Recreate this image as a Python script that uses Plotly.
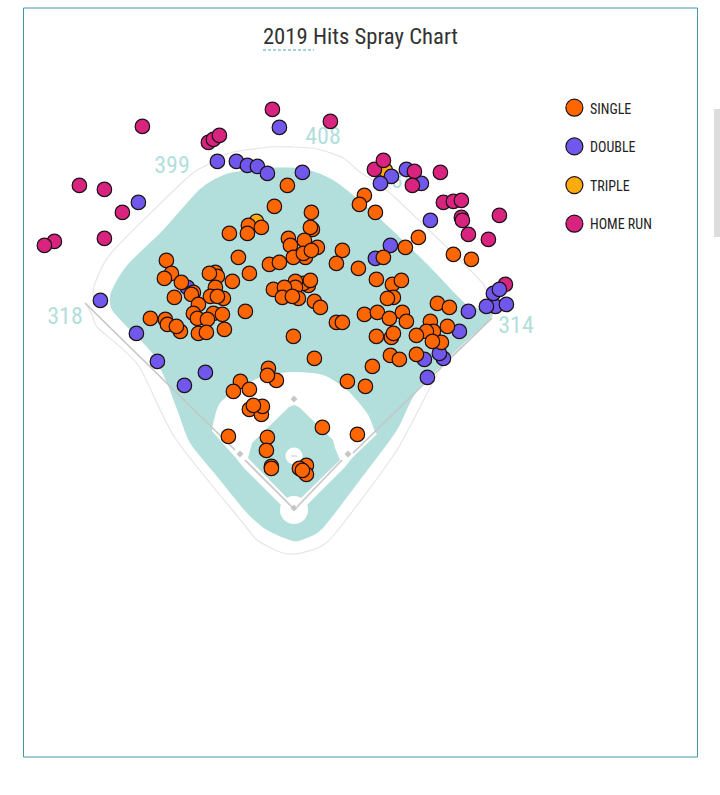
import plotly.graph_objects as go

TITLE = "2019 Hits Spray Chart"
COL_SINGLE = "#ff6600"
COL_DOUBLE = "#7158ec"
COL_TRIPLE = "#ffab0d"
COL_HR = "#d8237f"
TEAL = "#b2dfdb"
FONT = "Roboto Condensed, Roboto, sans-serif"

legend_labels = ["SINGLE", "DOUBLE", "TRIPLE", "HOME RUN"]
legend_colors = [COL_SINGLE, COL_DOUBLE, COL_TRIPLE, COL_HR]
legend_marker_y = [107.3, 146, 184.7, 223.3]
legend_text_y = [110, 148.5, 187, 225.5]

dist_labels = ["399", "408", "388", "318", "314"]
dist_x = [172, 323, 397, 65, 516]
dist_y = [167, 138, 182, 318, 327]

triples_x = [256, 385]
triples_y = [221, 170]

hr_back_x = [505]
hr_back_y = [284]

doubles_x = [279, 217, 236, 247, 257, 267, 138, 100, 187, 302, 406, 391, 380, 421, 430, 390, 375, 468,
             495, 486, 506, 493, 499, 136, 157, 205, 184, 459, 424, 443, 439, 427]
doubles_y = [127, 161, 161, 165, 166, 173, 202, 300, 287, 172, 169, 176, 183, 183, 220, 245, 258, 311,
             306, 306, 304, 293, 289, 333, 361, 372, 385, 331, 359, 358, 353, 377]

hr_x = [272, 142, 208, 213, 219, 79, 104, 122, 104, 54, 44, 330, 374, 383, 414, 412, 440, 443, 453, 461,
        499, 461, 462, 468, 488]
hr_y = [109, 126, 142, 139, 135, 185, 189, 212, 238, 241, 245, 121, 169, 160, 171, 185, 172, 202, 201, 200,
        215, 217, 220, 234, 239]

singles_x = [287, 274, 229, 248, 247, 261, 238, 249, 269, 279, 166, 171, 164, 181, 215, 217, 209, 232, 193, 191,
             174, 215, 223, 210, 217, 198, 193, 197, 213, 222, 207, 245, 150, 165, 167, 180, 176, 198, 206, 224,
             293, 268, 276, 267, 240, 233, 249, 249, 261, 262, 253, 228, 267, 266, 271, 271, 306, 299, 306, 302,
             322, 357, 347, 365, 372, 314, 311, 312, 310, 288, 290, 304, 317, 342, 336, 305, 293, 303, 311, 358,
             383, 405, 418, 364, 359, 375, 453, 471, 376, 392, 401, 393, 387, 308, 303, 295, 310, 295, 273, 284,
             298, 282, 292, 314, 320, 364, 377, 402, 389, 406, 336, 342, 437, 449, 430, 433, 426, 416, 447, 441,
             432, 376, 391, 393, 390, 399, 416]
singles_y = [185, 206, 233, 225, 233, 227, 257, 273, 264, 262, 260, 273, 278, 282, 272, 276, 273, 281, 292, 294,
             297, 287, 298, 296, 296, 304, 313, 318, 313, 314, 319, 311, 318, 319, 324, 331, 326, 333, 332, 329,
             336, 368, 380, 375, 381, 391, 389, 409, 414, 406, 405, 436, 437, 450, 466, 468, 465, 468, 474, 470,
             427, 434, 381, 386, 366, 358, 212, 229, 227, 238, 245, 240, 247, 250, 263, 257, 257, 253, 250, 268,
             257, 247, 237, 195, 204, 212, 254, 259, 279, 284, 280, 297, 298, 285, 283, 281, 280, 287, 289, 287,
             298, 297, 296, 301, 307, 314, 312, 312, 318, 321, 322, 322, 303, 307, 321, 331, 331, 335, 326, 342,
             341, 336, 337, 333, 355, 359, 354]

outfield = [(293, 541), (267, 530), (247, 513), (215, 474), (190, 443), (178, 412), (167, 383), (152, 353), (130, 330),
            (112, 310), (110, 296), (117, 280), (130, 262), (163, 230), (197, 192), (213, 180), (230, 173), (260, 168),
            (300, 168), (318, 173), (333, 180), (353, 195), (390, 228), (430, 267), (467, 305), (492, 317), (420, 387),
            (397, 430), (360, 480), (323, 528), (307, 538)]
wall = [(87, 305), (93, 317), (98, 328), (138, 365), (175, 438), (243, 523), (257, 540), (280, 552), (295, 554),
        (320, 547), (338, 530), (397, 450), (443, 365), (490, 320), (490, 305), (487, 293), (477, 277), (390, 193),
        (360, 172), (343, 158), (317, 149), (293, 147), (270, 147), (230, 153), (207, 165), (187, 178), (112, 252),
        (95, 283), (93, 297)]
dirt_arc = [(212, 429), (220, 403), (247, 383), (270, 375), (293, 372), (323, 375), (347, 390), (367, 413), (375, 432)]
dirt_low = [(377, 434), (352, 458), (345, 467), (300, 512), (288, 512), (243, 467), (236, 458), (212, 431)]
grass = [(294, 405), (299, 407), (333, 440), (335, 448), (340, 460), (297, 502), (291, 502), (248, 458), (252, 443), (289, 407)]
foul_l = [(293, 508), (245, 460)]
foul_l2 = [(235, 450), (85, 303)]
foul_r = [(297, 507), (342, 460)]
foul_r2 = [(353, 453), (492, 318)]
bases = [(294, 399), (240, 454), (348, 454), (294, 508)]

MARK_DX = 0.4
MARK_DY = 0.4


def poly(pts, close=False):
    s = "M " + " L ".join(f"{x},{y}" for x, y in pts)
    return s + (" Z" if close else "")


def smooth(pts, close=True, k=0.12):
    n = len(pts)
    s = f"M {pts[0][0]},{pts[0][1]}"
    for i in range(n if close else n - 1):
        if close:
            p0, p3 = pts[(i - 1) % n], pts[(i + 2) % n]
        else:
            p0, p3 = pts[max(i - 1, 0)], pts[min(i + 2, n - 1)]
        p1, p2 = pts[i], pts[(i + 1) % n]
        c1 = (p1[0] + (p2[0] - p0[0]) * k, p1[1] + (p2[1] - p0[1]) * k)
        c2 = (p2[0] - (p3[0] - p1[0]) * k, p2[1] - (p3[1] - p1[1]) * k)
        s += f" C {c1[0]:.1f},{c1[1]:.1f} {c2[0]:.1f},{c2[1]:.1f} {p2[0]},{p2[1]}"
    return s + (" Z" if close else "")


def path(d, fill=None, line=None, w=0):
    return dict(type="path", path=d, fillcolor=fill or "rgba(0,0,0,0)", line=dict(color=line or "rgba(0,0,0,0)", width=w), layer="below")


def circle(cx, cy, r, fill):
    return dict(type="circle", x0=cx - r, x1=cx + r, y0=cy - r, y1=cy + r, fillcolor=fill, line=dict(width=0), layer="below")


shapes = [
    dict(type="rect", x0=23.5, x1=697.5, y0=8, y1=757, line=dict(color="#3d9aa6", width=1), fillcolor="white", layer="below"),
    dict(type="rect", x0=714, x1=721, y0=109, y1=237, line=dict(width=0), fillcolor="#dddddd", layer="below"),
    dict(type="line", x0=263, x1=314, y0=50, y1=50, line=dict(color="#4f9fa8", width=1, dash="3px,2px"), layer="below"),
    path(smooth(outfield), TEAL),
    path(smooth(wall, close=False), None, "#e6e6e6", 1.2),
    path(smooth(dirt_arc, close=False) + " L " + " L ".join(f"{x},{y}" for x, y in dirt_low) + " Z", "white"),
    path(poly(grass, True), TEAL),
    circle(294, 510, 14, "white"),
    circle(294, 456, 8.5, "white"),
    dict(type="rect", x0=291, x1=297, y0=455.5, y1=456.5, fillcolor="#c8c8c8", line=dict(width=0), layer="below"),
]
for seg in (foul_l, foul_l2, foul_r, foul_r2):
    shapes.append(path(poly(seg), None, "#c6c6c6", 1.6))
for bx, by in bases:
    shapes.append(path(poly([(bx - 3.5, by), (bx, by - 3.5), (bx + 3.5, by), (bx, by + 3.5)], True), "#c6c6c6"))


def pts(x, y, color, name, size=14.5):
    return go.Scatter(x=[v + MARK_DX for v in x], y=[v + MARK_DY for v in y], mode="markers", name=name,
                      showlegend=False, hoverinfo="skip",
                      marker=dict(color=color, size=size, line=dict(color="#1c1015", width=1.2)))


fig = go.Figure()
fig.add_trace(go.Scatter(x=dist_x, y=dist_y, text=dist_labels, mode="text", showlegend=False, hoverinfo="skip",
                         textfont=dict(family=FONT, size=24, color=TEAL)))
fig.add_trace(pts(triples_x, triples_y, COL_TRIPLE, "TRIPLE"))
fig.add_trace(pts(hr_back_x, hr_back_y, COL_HR, "HOME RUN"))
fig.add_trace(pts(doubles_x, doubles_y, COL_DOUBLE, "DOUBLE"))
fig.add_trace(pts(hr_x, hr_y, COL_HR, "HOME RUN"))
fig.add_trace(pts(singles_x, singles_y, COL_SINGLE, "SINGLE"))
fig.add_trace(pts([574] * 4, legend_marker_y, legend_colors, "legend", size=17))
fig.add_trace(go.Scatter(x=[590] * 4, y=legend_text_y, text=legend_labels, mode="text", textposition="middle right",
                         showlegend=False, hoverinfo="skip", textfont=dict(family=FONT, size=14, color="#222222")))

fig.update_layout(
    width=720, height=795, margin=dict(l=0, r=0, t=0, b=0),
    paper_bgcolor="white", plot_bgcolor="white", shapes=shapes,
    title=dict(text=TITLE, x=360.5 / 720, xanchor="center", y=1 - 36.5 / 795, yanchor="middle", yref="paper",
               font=dict(family=FONT, size=22.7, color="#333333")),
    xaxis=dict(range=[0, 720], visible=False, fixedrange=True),
    yaxis=dict(range=[795, 0], visible=False, fixedrange=True),
)
post = ("document.body.style.margin='0';var st=document.createElement('style');"
        "st.textContent='text{font-stretch:75%!important}';document.head.appendChild(st);")
fig.write_html("out.html", post_script=post, config=dict(displayModeBar=False))
